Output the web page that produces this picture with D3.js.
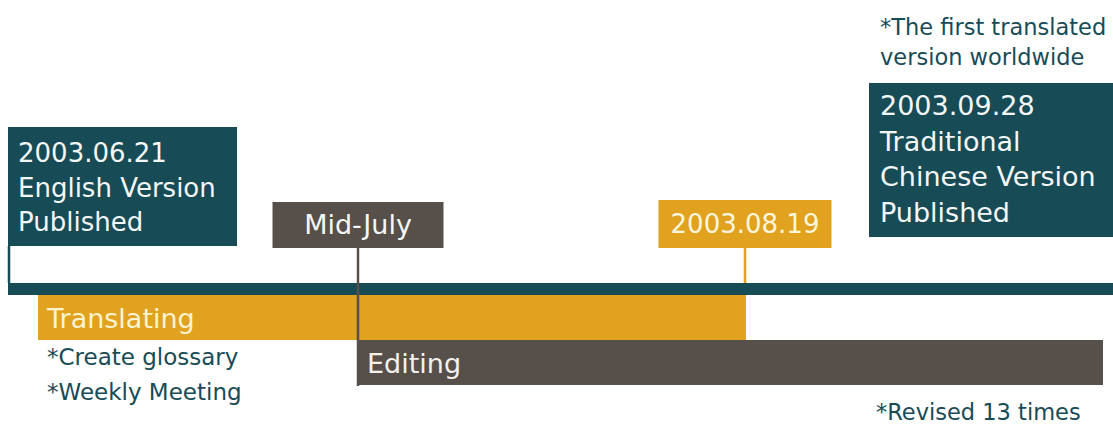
<!DOCTYPE html>
<html>
<head>
<meta charset="utf-8">
<script src="https://cdn.jsdelivr.net/npm/d3@7"></script>
<style>
  html, body { margin: 0; padding: 0; background: #ffffff; }
  svg { display: block; }
  text { font-family: "DejaVu Sans", Lato, sans-serif; }
</style>
</head>
<body>
<svg id="chart" width="1113" height="424"></svg>
<script>
// ---- data ----
const milestoneDates = ["2003-06-21", "2003-07-15", "2003-08-19", "2003-09-28"];
const milestoneLabels = [
  ["2003.06.21", "English Version", "Published"],
  ["Mid-July"],
  ["2003.08.19"],
  ["2003.09.28", "Traditional", "Chinese Version", "Published"]
];
const milestoneNotes = [[], [], [], ["*The first translated", "version worldwide"]];
const phaseNames = ["Translating", "Editing"];
const phaseStarts = ["2003-06-21", "2003-07-15"];
const phaseEnds = ["2003-08-19", "2003-09-28"];
const phaseNotes = [["*Create glossary", "*Weekly Meeting"], ["*Revised 13 times"]];

// ---- styles ----
const TEAL = "#174b56", GOLD = "#e0a21f", GREY = "#57504a";
const svg = d3.select("#chart");
const parse = d3.timeParse("%Y-%m-%d");
const dates = milestoneDates.map(parse);

// piecewise time scale (timeline is not drawn to strict calendar proportion)
const x = d3.scaleTime().domain(dates).range([9, 358, 745, 1103]);

// main timeline bar
const lineY = 283, lineH = 12;
svg.append("rect").attr("x", x(dates[0]) - 1).attr("y", lineY)
  .attr("width", 1113 - x(dates[0]) + 1).attr("height", lineH).attr("fill", TEAL);

// phase bars
const phaseY = [295, 340], phaseH = 45;
const phaseColor = [GOLD, GREY];
const phaseText = ["#fcf3cf", "#f4f1ec"];
const phaseStartPad = [29, 0];
phaseNames.forEach((name, i) => {
  const x0 = x(parse(phaseStarts[i])) + phaseStartPad[i];
  const x1 = x(parse(phaseEnds[i])) + (i === 0 ? 1 : 0);
  svg.append("rect").attr("x", x0).attr("y", phaseY[i])
    .attr("width", x1 - x0).attr("height", phaseH).attr("fill", phaseColor[i]);
  svg.append("text").attr("x", x0 + 9).attr("y", phaseY[i] + 33)
    .attr("font-size", 27).attr("fill", phaseText[i]).text(name);
});

// phase notes
phaseNotes[0].forEach((t, j) => {
  svg.append("text").attr("x", 47).attr("y", 365 + j * 35)
    .attr("font-size", 23).attr("fill", TEAL).text(t);
});
phaseNotes[1].forEach((t) => {
  svg.append("text").attr("x", 876).attr("y", 420)
    .attr("font-size", 22.5).attr("fill", TEAL).text(t);
});

// milestone boxes
const boxes = [
  { align: "left", y: 127, w: 229, h: 119, fill: TEAL, fs: 26, lh: 34.5, base: 162, tx: 10, connEnd: lineY },
  { align: "center", y: 202, w: 171, h: 46, fill: GREY, fs: 27, lh: 0, base: 234, tx: 0, connEnd: 386 },
  { align: "center", y: 200, w: 173, h: 48, fill: GOLD, fs: 26, lh: 0, base: 233, tx: 0, connEnd: lineY },
  { align: "right", y: 83, w: 244, h: 154, fill: TEAL, fs: 27, lh: 35.5, base: 115, tx: 11, connEnd: null }
];

boxes.forEach((b, i) => {
  const cx = x(dates[i]);
  let bx;
  if (b.align === "left") bx = cx - 1;
  else if (b.align === "center") bx = cx - b.w / 2;
  else bx = 1113 - b.w;

  if (b.connEnd !== null) {
    svg.append("line").attr("x1", cx).attr("x2", cx)
      .attr("y1", b.y + b.h).attr("y2", b.connEnd)
      .attr("stroke", b.fill).attr("stroke-width", 2.5);
  }
  svg.append("rect").attr("x", bx).attr("y", b.y).attr("width", b.w).attr("height", b.h)
    .attr("fill", b.fill);
  milestoneLabels[i].forEach((t, j) => {
    const tEl = svg.append("text").attr("y", b.base + j * b.lh)
      .attr("font-size", b.fs).attr("fill", i === 2 ? "#fdf6dc" : "#f4f7f7").text(t);
    if (b.align === "center") tEl.attr("x", cx).attr("text-anchor", "middle");
    else tEl.attr("x", bx + b.tx);
  });
  milestoneNotes[i].forEach((t, j) => {
    svg.append("text").attr("x", 880).attr("y", 35 + j * 30)
      .attr("font-size", 22.5).attr("fill", TEAL).text(t);
  });
});
</script>
</body>
</html>
